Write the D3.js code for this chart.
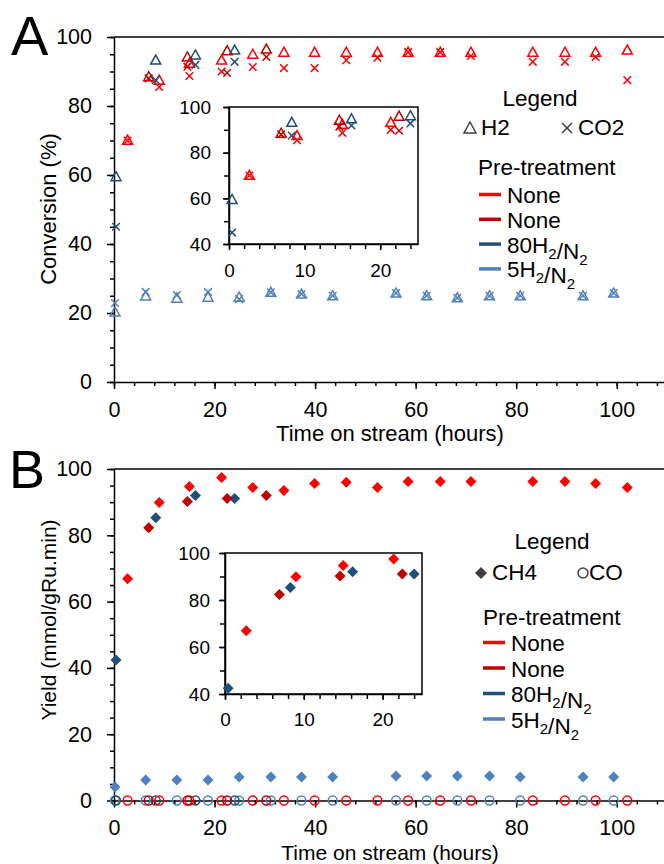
<!DOCTYPE html>
<html lang="en">
<head>
<meta charset="UTF-8">
<title>Conversion and yield vs time on stream</title>
<script src="https://cdn.jsdelivr.net/npm/d3@7/dist/d3.min.js"></script>
<style>
    body { margin: 0; background: #fff; }
    svg { display: block; font-family: "Liberation Sans", Arial, sans-serif; }
    .axis path, .axis line { stroke: #000; stroke-width: 1.5px; }
    .axis text { fill: #000; }
</style>
</head>
<body>
<script>
    const width = 664;
    const height = 864;

    // pre-treatment series
    const seriesLabels = ['None', 'None', '80H2/N2', '5H2/N2'];
    const seriesColors = ['#ff0000', '#c00000', '#1f4e79', '#4f81bd'];

    // None (red)
    const timeNone1 = [2.7, 9.0, 15.0, 21.4, 27.6, 33.8, 39.9, 46.2, 52.4, 58.5, 64.9, 71.0, 83.3, 89.7, 95.8, 102.1];
    const h2None1   = [70.1, 87.5, 92.4, 93.3, 95.0, 95.6, 95.6, 95.6, 95.6, 95.6, 95.6, 95.6, 95.6, 95.6, 95.6, 96.2];
    const co2None1  = [70.0, 85.5, 88.7, 90.0, 91.3, 91.0, 91.0, 93.3, 94.0, 95.6, 95.6, 94.5, 92.8, 92.8, 94.2, 87.5];
    const ch4None1  = [66.9, 89.9, 94.7, 97.4, 94.4, 93.5, 95.6, 96.0, 94.4, 96.2, 96.2, 96.2, 96.2, 96.2, 95.6, 94.4];
    const coNone1   = [0, 0, 0, 0, 0, 0, 0, 0, 0, 0, 0, 0, 0, 0, 0, 0];

    // None (dark red)
    const timeNone2 = [6.9, 14.6, 22.5, 30.3];
    const h2None2   = [88.5, 94.2, 96.0, 96.5];
    const co2None2  = [88.0, 91.4, 89.6, 94.2];
    const ch4None2  = [82.3, 90.2, 91.1, 92.0];
    const coNone2   = [0, 0, 0, 0];

    // 80H2/N2
    const time80 = [0.4, 8.3, 16.2, 24.0];
    const h2_80  = [59.5, 93.3, 94.8, 96.2];
    const co2_80 = [45.0, 87.5, 91.9, 92.8];
    const ch4_80 = [42.4, 85.3, 92.0, 91.1];
    const co_80  = [0, 0, 0, 0];

    // 5H2/N2
    const time5 = [0.2, 6.3, 12.5, 18.7, 24.9, 31.2, 37.3, 43.5, 56.1, 62.2, 68.3, 74.7, 80.8, 93.3, 99.4];
    const h2_5  = [20.3, 24.9, 24.3, 24.6, 24.6, 26.0, 25.5, 25.0, 25.8, 25.0, 24.4, 25.0, 25.0, 25.0, 25.8];
    const co2_5 = [22.9, 26.1, 25.2, 26.1, 24.0, 26.0, 25.5, 25.0, 25.8, 25.0, 24.4, 25.0, 25.0, 25.0, 25.8];
    const ch4_5 = [4.1, 6.2, 6.2, 6.2, 7.1, 7.1, 7.1, 7.1, 7.4, 7.4, 7.4, 7.4, 7.1, 7.1, 7.1];
    const co_5  = [0, 0, 0, 0, 0, 0, 0, 0, 0, 0, 0, 0, 0, 0, 0];

    const series = [
        { time: time5, h2: h2_5, co2: co2_5, ch4: ch4_5, co: co_5, color: seriesColors[3] },
        { time: time80, h2: h2_80, co2: co2_80, ch4: ch4_80, co: co_80, color: seriesColors[2] },
        { time: timeNone1, h2: h2None1, co2: co2None1, ch4: ch4None1, co: coNone1, color: seriesColors[0] },
        { time: timeNone2, h2: h2None2, co2: co2None2, ch4: ch4None2, co: coNone2, color: seriesColors[1] }
    ];

    const svg = d3.select('body').append('svg')
        .attr('width', width)
        .attr('height', height);

    // scales
    const xMain = d3.scaleLinear().domain([0, 110]).range([114, 667]);
    const yA = d3.scaleLinear().domain([0, 100]).range([382, 37]);
    const yB = d3.scaleLinear().domain([0, 100]).range([800.5, 469]);
    const xInA = d3.scaleLinear().domain([0, 25]).range([229, 418]);
    const yInA = d3.scaleLinear().domain([40, 100]).range([244, 107]);
    const xInB = d3.scaleLinear().domain([0, 25]).range([225, 422]);
    const yInB = d3.scaleLinear().domain([40, 100]).range([694, 553]);

    const markers = {
        triangle: 'M0,-5L5,4L-5,4Z',
        cross: 'M-3.8,-3.8L3.8,3.8M-3.8,3.8L3.8,-3.8',
        diamond: 'M0,-5.5L5.5,0L0,5.5L-5.5,0Z',
        circle: d3.symbol(d3.symbolCircle, Math.PI * 4.4 * 4.4)()
    };

    function drawAxes (g, x, y, o) {
        const y0 = y.range()[0], x0 = x.range()[0];
        // minor ticks
        g.append('g').attr('class', 'axis')
            .attr('transform', `translate(0,${y0})`)
            .call(d3.axisBottom(x).tickValues(o.xMinor).tickSize(o.minor).tickFormat(''))
            .call(a => a.select('.domain').remove());
        g.append('g').attr('class', 'axis')
            .attr('transform', `translate(${x0},0)`)
            .call(d3.axisLeft(y).tickValues(o.yMinor).tickSize(o.minor).tickFormat(''))
            .call(a => a.select('.domain').remove());
        // major ticks + labels
        g.append('g').attr('class', 'axis')
            .attr('transform', `translate(0,${y0})`)
            .call(d3.axisBottom(x).tickValues(o.xMajor).tickSize(o.major).tickSizeOuter(0).tickPadding(o.xPad))
            .attr('font-family', null)
            .attr('font-size', o.fontSize);
        g.append('g').attr('class', 'axis')
            .attr('transform', `translate(${x0},0)`)
            .call(d3.axisLeft(y).tickValues(o.yMajor).tickSize(o.major).tickSizeOuter(0).tickPadding(o.yPad))
            .attr('font-family', null)
            .attr('font-size', o.fontSize);
    }

    function plotPoints (g, x, y, key, shape, filled, keep) {
        series.forEach(s => {
            const pts = s.time.map((t, i) => ({ t: t, v: s[key][i] })).filter(keep);
            g.append('g').selectAll('path')
                .data(pts)
                .join('path')
                .attr('d', markers[shape])
                .attr('transform', d => `translate(${x(d.t)},${y(d.v)})`)
                .attr('fill', filled ? s.color : 'none')
                .attr('stroke', filled ? 'none' : s.color)
                .attr('stroke-width', 1.5);
        });
    }

    function addLabel (sel, str, sub) {
        // H2 / N2 get a subscript 2
        for (let i = 0; i < str.length; i++) {
            const ch = str[i];
            if (sub && ch === '2' && (str[i - 1] === 'H' || str[i - 1] === 'N')) {
                sel.append('tspan').attr('font-size', 15).attr('dy', 6).text(ch);
                sel.append('tspan').attr('dy', -6).text('');
            } else {
                sel.append('tspan').text(ch);
            }
        }
    }

    function drawLegend (g, o) {
        g.append('text').attr('x', o.cx).attr('y', o.y0).attr('text-anchor', 'middle')
            .attr('font-size', 22.5).text('Legend');
        o.keys.forEach(k => {
            g.append('path').attr('d', k.d)
                .attr('transform', `translate(${k.mx},${o.y1 - 7})`)
                .attr('fill', k.filled ? '#404040' : 'none')
                .attr('stroke', k.filled ? 'none' : '#404040')
                .attr('stroke-width', 1.5);
            g.append('text').attr('x', k.tx).attr('y', o.y1).attr('font-size', 22.5).text(k.text);
        });
        g.append('text').attr('x', o.px).attr('y', o.y2).attr('font-size', 22.5).text('Pre-treatment');
        seriesLabels.forEach((lab, i) => {
            const yy = o.y3 + i * o.step;
            g.append('line').attr('x1', o.lx).attr('x2', o.lx + 22)
                .attr('y1', yy - 8.5).attr('y2', yy - 8.5)
                .attr('stroke', seriesColors[i]).attr('stroke-width', 3.5);
            addLabel(g.append('text').attr('x', o.lx + 28).attr('y', yy).attr('font-size', 22.5), lab, true);
        });
    }

    // ---------------- Panel A ----------------
    const gA = svg.append('g');
    drawAxes(gA, xMain, yA, {
        xMajor: d3.range(0, 101, 20), xMinor: d3.range(0, 111, 4),
        yMajor: d3.range(0, 101, 20), yMinor: d3.range(0, 101, 5),
        major: 7, minor: 4, xPad: 13, yPad: 15, fontSize: 21.5
    });
    gA.append('line').attr('x1', xMain(0)).attr('x2', xMain(110))
        .attr('y1', yA(100)).attr('y2', yA(100))
        .attr('stroke', '#000').attr('stroke-width', 1.5);
    plotPoints(gA, xMain, yA, 'h2', 'triangle', false, () => true);
    plotPoints(gA, xMain, yA, 'co2', 'cross', false, () => true);

    // inset A
    const gIA = svg.append('g');
    gIA.append('rect').attr('x', xInA(0)).attr('y', yInA(100))
        .attr('width', xInA(25) - xInA(0)).attr('height', yInA(40) - yInA(100))
        .attr('fill', '#fff').attr('stroke', '#000').attr('stroke-width', 1.5);
    drawAxes(gIA, xInA, yInA, {
        xMajor: [0, 10, 20], xMinor: d3.range(0, 25, 2),
        yMajor: [40, 60, 80, 100], yMinor: d3.range(40, 101, 10),
        major: 6, minor: 5, xPad: 14, yPad: 12, fontSize: 19
    });
    const inRange = d => d.t <= 25 && d.v >= 40;
    plotPoints(gIA, xInA, yInA, 'h2', 'triangle', false, inRange);
    plotPoints(gIA, xInA, yInA, 'co2', 'cross', false, inRange);

    drawLegend(svg.append('g'), {
        cx: 540, y0: 106, y1: 135, y2: 175, y3: 203, step: 24.8, px: 478, lx: 479,
        keys: [
            { d: 'M0,-6L6,5L-6,5Z', mx: 470, tx: 481, text: 'H2', filled: false },
            { d: 'M-5,-5L5,5M-5,5L5,-5', mx: 567, tx: 578, text: 'CO2', filled: false }
        ]
    });

    // ---------------- Panel B ----------------
    const gB = svg.append('g');
    drawAxes(gB, xMain, yB, {
        xMajor: d3.range(0, 101, 20), xMinor: d3.range(0, 111, 4),
        yMajor: d3.range(0, 101, 20), yMinor: d3.range(0, 101, 5),
        major: 7, minor: 4, xPad: 12, yPad: 15, fontSize: 21.5
    });
    gB.append('line').attr('x1', xMain(0)).attr('x2', xMain(110))
        .attr('y1', yB(100)).attr('y2', yB(100))
        .attr('stroke', '#000').attr('stroke-width', 1.5);
    plotPoints(gB, xMain, yB, 'ch4', 'diamond', true, () => true);
    plotPoints(gB, xMain, yB, 'co', 'circle', false, () => true);

    // inset B
    const gIB = svg.append('g');
    gIB.append('rect').attr('x', xInB(0)).attr('y', yInB(100))
        .attr('width', xInB(25) - xInB(0)).attr('height', yInB(40) - yInB(100))
        .attr('fill', '#fff').attr('stroke', '#000').attr('stroke-width', 1.5);
    drawAxes(gIB, xInB, yInB, {
        xMajor: [0, 10, 20], xMinor: d3.range(0, 25, 2),
        yMajor: [40, 60, 80, 100], yMinor: d3.range(40, 101, 10),
        major: 6, minor: 5, xPad: 13, yPad: 9, fontSize: 19
    });
    plotPoints(gIB, xInB, yInB, 'ch4', 'diamond', true, inRange);

    drawLegend(svg.append('g'), {
        cx: 552, y0: 549, y1: 580, y2: 625, y3: 651, step: 25.5, px: 483, lx: 483,
        keys: [
            { d: 'M0,-6L6,0L0,6L-6,0Z', mx: 481, tx: 492, text: 'CH4', filled: true },
            { d: d3.symbol(d3.symbolCircle, Math.PI * 25)(), mx: 583, tx: 589, text: 'CO', filled: false }
        ]
    });

    // panel letters and titles
    svg.append('text').attr('x', 11).attr('y', 55).attr('font-size', 56).text('A');
    svg.append('text').attr('x', 9).attr('y', 488).attr('font-size', 54).text('B');

    svg.append('text').attr('x', 390).attr('y', 441).attr('text-anchor', 'middle')
        .attr('font-size', 22).text('Time on stream (hours)');
    svg.append('text').attr('x', 390).attr('y', 860).attr('text-anchor', 'middle')
        .attr('font-size', 21).text('Time on stream (hours)');
    svg.append('text').attr('transform', 'translate(56,209) rotate(-90)').attr('text-anchor', 'middle')
        .attr('font-size', 22).text('Conversion (%)');
    svg.append('text').attr('transform', 'translate(56,620) rotate(-90)').attr('text-anchor', 'middle')
        .attr('font-size', 21).text('Yield (mmol/gRu.min)');
</script>
</body>
</html>
